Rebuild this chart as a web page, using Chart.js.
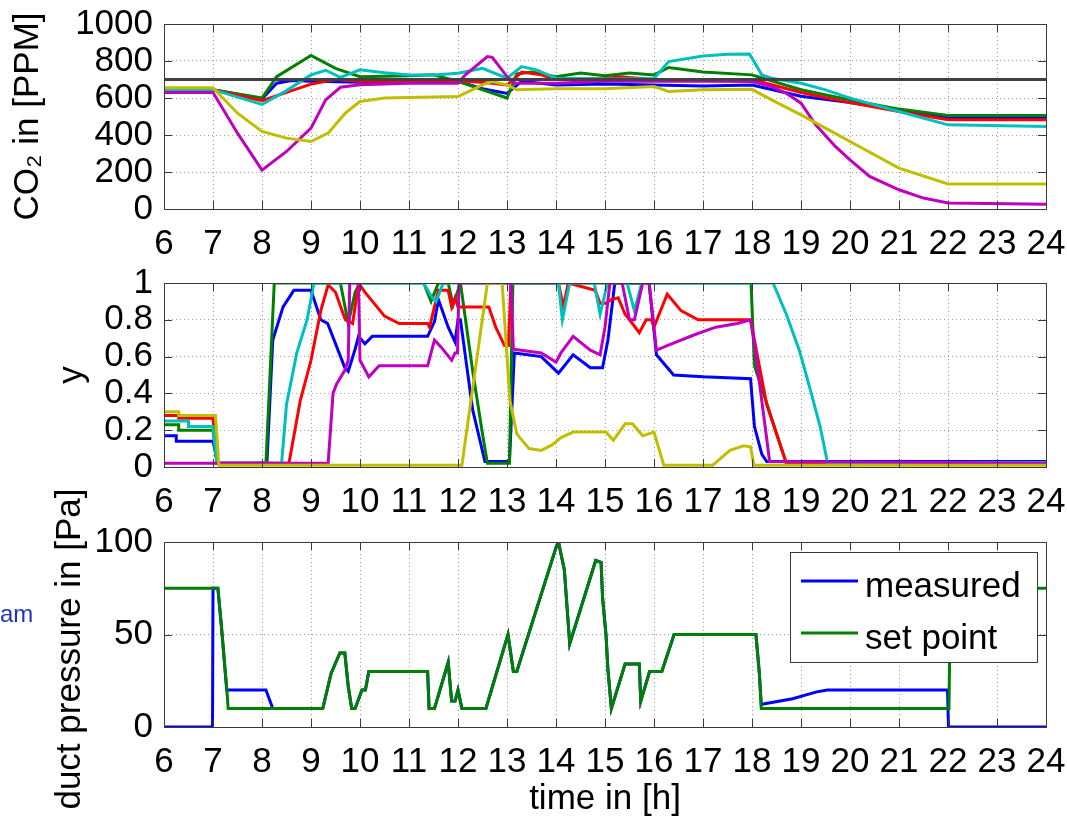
<!DOCTYPE html>
<html>
<head>
<meta charset="utf-8">
<script src="https://cdn.jsdelivr.net/npm/chart.js@4.4.1/dist/chart.umd.min.js"></script>
<style>
  html, body { margin: 0; padding: 0; background: #fff; }
  #wrap { position: relative; width: 1067px; height: 820px; overflow: hidden; }
  canvas { position: absolute; left: 0; }
  #stray { position: absolute; left: 0; top: 602px; font: 24px 'Liberation Sans', Arial, sans-serif; color: #1f35b4; line-height: 1; }
</style>
</head>
<body>
<div id="wrap">
  <canvas id="co2Chart" width="1067" height="262" style="top:0"></canvas>
  <canvas id="yChart" width="1067" height="258" style="top:262px"></canvas>
  <canvas id="dpChart" width="1067" height="350" style="top:470px"></canvas>
  <span id="stray">am</span>
</div>
<script>
// matlab default colour order
const colors = ['#0000ff', '#008000', '#ff0000', '#00bfbf', '#bf00bf', '#bfbf00', '#404040'];

///// CO2 panel (ppm) /////
const co2BlueT = [6, 7, 8, 8.3, 8.6, 9, 10, 11, 12, 12.5, 13, 13.3, 14, 15, 16, 17, 18, 19, 20, 21, 22, 24];
const co2BlueV = [645, 645, 595, 680, 695, 690, 685, 690, 690, 650, 625, 690, 670, 675, 670, 665, 670, 610, 575, 535, 495, 495];
const co2GreenT = [6, 7, 8, 8.3, 9, 9.5, 10, 11, 11.5, 12, 13, 13.2, 13.5, 14, 14.5, 15, 15.5, 16, 16.3, 17, 18, 19, 20, 21, 22, 24];
const co2GreenV = [645, 645, 600, 715, 830, 760, 715, 720, 725, 690, 600, 730, 740, 715, 735, 720, 735, 725, 765, 740, 725, 645, 590, 540, 505, 505];
const co2RedT = [6, 7, 8, 8.5, 9, 9.5, 10, 11, 12, 12.7, 13, 13.3, 13.7, 14, 15, 15.3, 16, 17, 18, 19, 20, 21, 22, 24];
const co2RedV = [645, 645, 585, 630, 675, 700, 690, 690, 695, 680, 670, 740, 725, 700, 705, 715, 700, 700, 700, 630, 575, 527, 482, 482];
const co2CyanT = [6, 7, 8, 8.5, 9, 9.3, 9.6, 10, 10.5, 11, 11.5, 12, 12.5, 13, 13.3, 13.6, 14, 15, 16, 16.3, 17, 17.5, 17.95, 18.2, 18.4, 19, 19.5, 20, 21, 22, 24];
const co2CyanV = [645, 645, 565, 640, 725, 750, 712, 752, 737, 725, 725, 734, 760, 707, 770, 752, 707, 703, 705, 797, 827, 836, 838, 725, 707, 680, 644, 599, 527, 455, 446];
const co2MagentaT = [6, 7, 7.5, 8, 8.5, 9, 9.3, 9.6, 10, 11, 12, 12.15, 12.6, 12.7, 13, 13.15, 14, 15, 16, 17, 18, 18.4, 18.7, 19, 19.3, 19.7, 20, 20.4, 21, 21.5, 22, 24];
const co2MagentaV = [630, 630, 410, 210, 311, 437, 590, 658, 671, 680, 680, 725, 824, 820, 716, 680, 680, 690, 690, 690, 689, 662, 626, 572, 455, 338, 266, 176, 104, 59, 32, 25];
const co2YellowT = [6, 7, 7.5, 8, 8.5, 9, 9.35, 9.7, 10, 10.5, 12, 12.5, 12.7, 13, 13.2, 14, 15, 16, 16.3, 17, 18, 18.4, 19, 19.5, 20, 21, 22, 24];
const co2YellowV = [656, 656, 518, 419, 383, 365, 410, 518, 581, 600, 608, 671, 689, 671, 644, 650, 650, 662, 635, 644, 647, 590, 509, 437, 365, 221, 135, 135];
const co2LimitT = [6, 24];
const co2LimitV = [700, 700];

///// control signal panel (y) /////
const ctlBlueT = [6, 6.25, 6.25, 7.0, 7.1, 8.1, 8.22, 8.43, 8.65, 9.0, 9.2, 9.34, 9.69, 9.76, 9.9, 9.97, 10.1, 10.25, 11.38, 11.52, 11.6, 11.8, 11.94, 12.0, 12.05, 12.3, 12.55, 13.05, 13.15, 13.7, 14.05, 14.35, 14.7, 14.95, 15.06, 15.2, 15.9, 16.05, 16.4, 17.0, 17.97, 18.05, 18.2, 18.3, 24];
const ctlBlueV = [0.17, 0.17, 0.14, 0.14, 0.02, 0.02, 0.69, 0.87, 0.96, 0.96, 0.80, 0.78, 0.54, 0.52, 0.64, 0.71, 0.67, 0.71, 0.71, 0.79, 0.91, 0.76, 0.68, 0.80, 0.80, 0.31, 0.03, 0.03, 0.62, 0.60, 0.51, 0.61, 0.54, 0.54, 0.69, 1.0, 1.0, 0.61, 0.50, 0.49, 0.48, 0.22, 0.07, 0.03, 0.03];
const ctlGreenT = [6, 6.3, 6.3, 7.0, 7.08, 8.08, 8.25, 9.6, 9.76, 9.9, 10.0, 11.3, 11.45, 11.6, 11.8, 11.9, 12.05, 12.3, 12.5, 12.6, 13.05, 13.12, 17.98, 18.05, 18.7, 24];
const ctlGreenV = [0.23, 0.23, 0.20, 0.20, 0.02, 0.02, 1.0, 1.0, 0.78, 0.95, 1.0, 1.0, 0.90, 1.0, 1.0, 0.88, 1.0, 0.52, 0.18, 0.02, 0.02, 1.0, 1.0, 0.55, 0.02, 0.025];
const ctlRedT = [6, 6.3, 6.3, 7.0, 7.08, 8.55, 8.78, 9.0, 9.2, 9.35, 9.5, 9.7, 9.85, 9.97, 10.1, 10.5, 10.8, 11.38, 11.42, 11.6, 11.8, 11.87, 11.94, 12.0, 12.1, 12.63, 12.77, 12.95, 13.03, 13.08, 14.05, 14.15, 14.25, 14.8, 14.9, 15.02, 15.13, 15.27, 15.41, 15.56, 15.7, 15.84, 15.95, 16.0, 16.27, 16.55, 16.9, 17.97, 18.3, 18.7, 24];
const ctlRedV = [0.28, 0.28, 0.265, 0.265, 0.02, 0.02, 0.36, 0.58, 0.85, 0.99, 0.95, 0.80, 0.78, 1.0, 0.95, 0.82, 0.78, 0.78, 0.76, 0.96, 0.96, 0.87, 0.92, 0.87, 0.87, 0.87, 0.76, 0.66, 0.66, 1.0, 1.0, 0.87, 1.0, 0.96, 0.89, 0.89, 0.91, 0.92, 0.83, 0.78, 0.73, 0.80, 0.80, 0.76, 0.94, 0.85, 0.80, 0.80, 0.34, 0.02, 0.02];
const ctlCyanT = [6, 6.5, 6.5, 7.0, 7.08, 8.4, 8.5, 8.71, 8.92, 9.06, 11.3, 11.45, 11.55, 11.7, 14.05, 14.13, 14.28, 14.78, 14.9, 15.05, 15.45, 15.6, 15.75, 18.43, 18.7, 18.97, 19.18, 19.39, 19.54, 24];
const ctlCyanV = [0.25, 0.25, 0.22, 0.22, 0.02, 0.02, 0.34, 0.62, 0.80, 1.0, 1.0, 0.93, 0.90, 1.0, 1.0, 0.80, 1.0, 1.0, 0.83, 1.0, 1.0, 0.85, 1.0, 1.0, 0.83, 0.63, 0.43, 0.22, 0.025, 0.025];
const ctlMagentaT = [6, 9.35, 9.45, 9.52, 9.69, 9.76, 9.79, 9.97, 10.0, 10.18, 10.39, 10.74, 11.38, 11.52, 11.66, 11.87, 11.94, 11.99, 12.02, 13.08, 13.13, 13.7, 14.0, 14.1, 14.35, 14.7, 14.9, 15.0, 15.1, 15.35, 15.5, 15.6, 15.77, 15.9, 16.05, 16.27, 16.84, 17.26, 17.7, 17.97, 18.05, 18.2, 18.36, 24];
const ctlMagentaV = [0.02, 0.02, 0.40, 0.45, 0.525, 0.58, 1.0, 1.0, 0.58, 0.49, 0.55, 0.55, 0.55, 0.69, 0.65, 0.58, 0.62, 0.62, 1.0, 1.0, 0.64, 0.62, 0.57, 0.62, 0.71, 0.635, 0.61, 0.76, 1.0, 1.0, 0.80, 0.80, 1.0, 1.0, 0.635, 0.66, 0.72, 0.76, 0.78, 0.80, 0.67, 0.36, 0.03, 0.02];
const ctlYellowT = [6, 6.3, 6.3, 7.05, 7.12, 12.08, 12.6, 12.9, 13.06, 13.2, 13.45, 13.7, 13.92, 14.1, 14.35, 15.02, 15.17, 15.41, 15.56, 15.77, 16.0, 16.2, 17.2, 17.55, 17.83, 17.97, 18.04, 24];
const ctlYellowV = [0.30, 0.30, 0.28, 0.28, 0.01, 0.01, 1.0, 1.0, 0.36, 0.18, 0.10, 0.09, 0.12, 0.16, 0.19, 0.19, 0.145, 0.235, 0.235, 0.17, 0.19, 0.01, 0.01, 0.09, 0.115, 0.11, 0.01, 0.01];

///// duct pressure panel (Pa) /////
const dpMeasT = [6, 6.99, 7.0, 7.1, 7.17, 7.28, 8.08, 8.22, 9.24, 9.41, 9.59, 9.69, 9.76, 9.83, 9.9, 10.04, 10.11, 10.18, 11.38, 11.41, 11.52, 11.8, 11.87, 11.94, 12.0, 12.08, 12.57, 13.02, 13.13, 13.2, 14.0, 14.05, 14.17, 14.28, 14.81, 14.92, 14.95, 15.02, 15.06, 15.13, 15.41, 15.7, 15.73, 15.91, 16.16, 16.41, 18.08, 18.15, 18.19, 18.26, 18.83, 19.32, 19.54, 21.99, 22.01, 24];
const dpMeasV = [0, 0, 75, 75, 55, 20, 20, 10, 10, 29, 40, 40, 22, 10, 10, 20, 20, 30, 30, 10, 10, 35, 14, 14, 20, 10, 10, 50, 30, 30, 97, 100, 85, 45, 90, 89, 70, 50, 31, 10, 34, 34, 14, 30, 30, 50, 50, 29, 12, 12.6, 15.3, 19, 20, 20, 0, 0];
const dpSetT = [6, 7.1, 7.17, 7.28, 7.31, 9.24, 9.41, 9.59, 9.69, 9.76, 9.83, 9.9, 10.04, 10.11, 10.18, 11.38, 11.41, 11.52, 11.8, 11.87, 11.94, 12.0, 12.08, 12.57, 13.02, 13.13, 13.2, 14.0, 14.05, 14.17, 14.28, 14.81, 14.92, 14.95, 15.02, 15.06, 15.13, 15.41, 15.7, 15.73, 15.91, 16.16, 16.41, 18.08, 18.15, 18.19, 22.02, 22.05, 24];
const dpSetV = [75, 75, 55, 21, 10, 10, 29, 40, 40, 22, 10, 10, 20, 20, 30, 30, 10, 10, 35, 14, 14, 20, 10, 10, 50, 30, 30, 97, 100, 85, 45, 90, 89, 70, 50, 31, 10, 34, 34, 14, 30, 30, 50, 50, 29, 10, 10, 75, 75];
const dpLabels = ['measured', 'set point'];

const xTicksMin = 6, xTicksMax = 24;

//////////////////
///// config /////

const FONT = "'Liberation Sans', Arial, Helvetica, sans-serif";
Chart.defaults.font.family = FONT;
Chart.defaults.font.size = 35;
Chart.defaults.color = '#000';

const pts = (t, v) => t.map((x, i) => ({x: x, y: v[i]}));
// plain matlab-like numbers: 1000 not 1,000 and 1 not 1.0
const plainNum = (v) => String(Math.round(v * 1000) / 1000);

function lines(list) {
  // later series on top, like matlab
  return list.map((s, i) => ({
    label: s.label || '',
    data: pts(s.t, s.v),
    borderColor: s.color,
    backgroundColor: s.color,
    borderWidth: 3,
    pointRadius: 0,
    tension: 0,
    fill: false,
    order: list.length - i
  }));
}

// box round the axes plus inward ticks
const framePlugin = {
  id: 'frame',
  afterDatasetsDraw(chart) {
    const {ctx, chartArea: a} = chart;
    const xs = chart.scales.x, ys = chart.scales.y;
    ctx.save();
    ctx.strokeStyle = '#3a3a3a';
    ctx.lineWidth = 1;
    ctx.beginPath();
    xs.ticks.forEach(t => {
      const px = Math.round(xs.getPixelForValue(t.value)) + 0.5;
      ctx.moveTo(px, a.bottom); ctx.lineTo(px, a.bottom - 8);
      ctx.moveTo(px, a.top); ctx.lineTo(px, a.top + 8);
    });
    ys.ticks.forEach(t => {
      const py = Math.round(ys.getPixelForValue(t.value)) + 0.5;
      ctx.moveTo(a.left, py); ctx.lineTo(a.left + 8, py);
      ctx.moveTo(a.right, py); ctx.lineTo(a.right - 8, py);
    });
    ctx.stroke();
    ctx.strokeRect(Math.round(a.left) + 0.5, Math.round(a.top) + 0.5, Math.round(a.width), Math.round(a.height));
    ctx.restore();
  }
};

// matlab style legend box, top right inside the axes
const boxLegend = {
  id: 'boxLegend',
  afterDraw(chart) {
    const {ctx, chartArea: a} = chart;
    const w = 247, h = 110;
    const left = a.right - 9 - w, top = a.top + 10;
    ctx.save();
    ctx.fillStyle = '#fff';
    ctx.fillRect(left, top, w, h);
    ctx.strokeStyle = '#3a3a3a';
    ctx.lineWidth = 1;
    ctx.strokeRect(left + 0.5, top + 0.5, w, h);
    ctx.font = '35px ' + FONT;
    ctx.textBaseline = 'alphabetic';
    ctx.fillStyle = '#000';
    chart.data.datasets.forEach((ds, i) => {
      const ly = top + 29 + i * 52;
      ctx.strokeStyle = ds.borderColor;
      ctx.lineWidth = 3;
      ctx.beginPath();
      ctx.moveTo(left + 11, ly);
      ctx.lineTo(left + 68, ly);
      ctx.stroke();
      ctx.fillText(ds.label, left + 75, ly + 16);
    });
    ctx.restore();
  }
};

function panelOptions(cfg) {
  return {
    responsive: false,
    animation: false,
    events: [],
    layout: {padding: {top: cfg.padTop, right: 21, left: 0, bottom: 0}},
    plugins: {legend: {display: false}, tooltip: {enabled: false}},
    scales: {
      x: {
        type: 'linear',
        min: xTicksMin,
        max: xTicksMax,
        ticks: {stepSize: 1, autoSkip: false, maxRotation: 0, padding: 14, callback: plainNum},
        grid: {color: '#a0a0a0', lineWidth: 1, drawTicks: false},
        border: {display: false, dash: [1, 3]},
        title: cfg.xTitle
          ? {display: true, text: cfg.xTitle, font: {size: 35}, padding: {top: 0, bottom: 0}}
          : {display: false},
        afterFit: (s) => { s.height = cfg.xAxisH; s.paddingLeft = 0; s.paddingRight = 0; }
      },
      y: {
        type: 'linear',
        min: cfg.yMin,
        max: cfg.yMax,
        ticks: {stepSize: cfg.yStep, padding: 11, autoSkip: false, callback: plainNum},
        grid: {color: '#a0a0a0', lineWidth: 1, drawTicks: false},
        border: {display: false, dash: [1, 3]},
        title: {display: true, text: cfg.yTitle, font: {size: 35}, padding: {top: cfg.yTitlePad, bottom: 0}},
        afterFit: (s) => { s.width = 164; s.paddingTop = 0; s.paddingBottom = 0; }
      }
    }
  };
}

new Chart(document.getElementById('co2Chart'), {
  type: 'line',
  data: {
    datasets: lines([
      {t: co2BlueT, v: co2BlueV, color: colors[0]},
      {t: co2GreenT, v: co2GreenV, color: colors[1]},
      {t: co2RedT, v: co2RedV, color: colors[2]},
      {t: co2CyanT, v: co2CyanV, color: colors[3]},
      {t: co2MagentaT, v: co2MagentaV, color: colors[4]},
      {t: co2YellowT, v: co2YellowV, color: colors[5]},
      {t: co2LimitT, v: co2LimitV, color: colors[6]}
    ])
  },
  options: panelOptions({padTop: 24, xAxisH: 53, yMin: 0, yMax: 1000, yStep: 200, yTitle: 'CO\u2082 in [PPM]', yTitlePad: 7}),
  plugins: [framePlugin]
});

new Chart(document.getElementById('yChart'), {
  type: 'line',
  data: {
    datasets: lines([
      {t: ctlBlueT, v: ctlBlueV, color: colors[0]},
      {t: ctlGreenT, v: ctlGreenV, color: colors[1]},
      {t: ctlRedT, v: ctlRedV, color: colors[2]},
      {t: ctlCyanT, v: ctlCyanV, color: colors[3]},
      {t: ctlMagentaT, v: ctlMagentaV, color: colors[4]},
      {t: ctlYellowT, v: ctlYellowV, color: colors[5]}
    ])
  },
  options: panelOptions({padTop: 21, xAxisH: 53, yMin: 0, yMax: 1, yStep: 0.2, yTitle: 'y', yTitlePad: 51}),
  plugins: [framePlugin]
});

new Chart(document.getElementById('dpChart'), {
  type: 'line',
  data: {
    datasets: lines([
      {t: dpMeasT, v: dpMeasV, color: colors[0], label: dpLabels[0]},
      {t: dpSetT, v: dpSetV, color: colors[1], label: dpLabels[1]}
    ])
  },
  // trailing spaces nudge the rotated title down a little, as in the original figure
  options: panelOptions({padTop: 72, xAxisH: 93, yMin: 0, yMax: 100, yStep: 50, yTitle: 'duct pressure in [Pa]\u00a0\u00a0\u00a0', yTitlePad: 49, xTitle: 'time in [h]'}),
  plugins: [framePlugin, boxLegend]
});
</script>
</body>
</html>
